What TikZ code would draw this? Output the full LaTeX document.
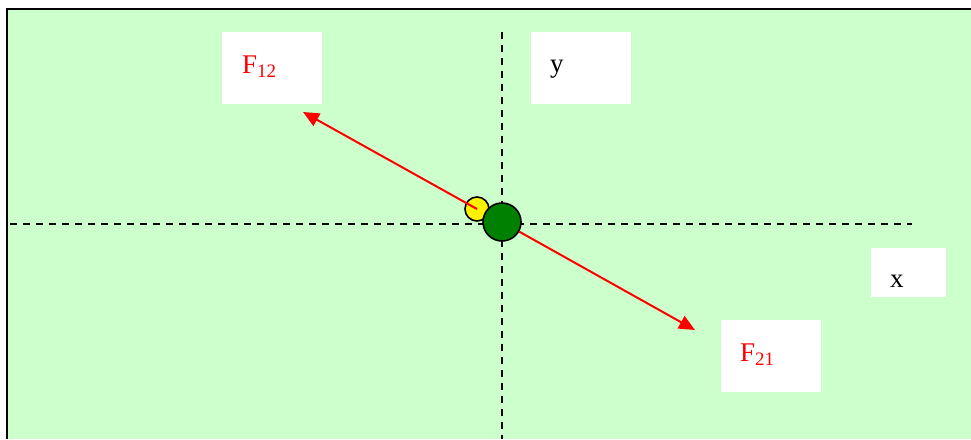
\documentclass[tikz,border=0pt]{standalone}
\usepackage{fontspec}
\setmainfont{Liberation Serif}
\usetikzlibrary{arrows.meta}
\definecolor{bggreen}{HTML}{CCFFCC}
\definecolor{dkgreen}{HTML}{008000}
\tikzset{
  labelbox/.style={fill=white, draw=none, inner sep=0pt, anchor=north west},
  lbl/.style={anchor=base west, inner sep=0pt, font=\fontsize{27}{31}\selectfont},
  axis/.style={black, line width=1.6pt, dash pattern=on 7pt off 6pt},
  force/.style={red, line width=2pt, -{Triangle[length=16pt,width=14pt]}},
}
\begin{document}
\begin{tikzpicture}[x=1pt,y=-1pt]
\useasboundingbox (0,0) rectangle (971,439);
\fill[bggreen] (7,9) rectangle (971,439);
\draw[black, line width=2.4pt] (7,439) -- (7,9) -- (971,9);
% label boxes
\node[labelbox, minimum width=100pt, minimum height=72pt] (b12) at (222,32) {};
\node[labelbox, minimum width=100pt, minimum height=72pt] (by) at (531,32) {};
\node[labelbox, minimum width=75pt, minimum height=49pt] (bx) at (871,248) {};
\node[labelbox, minimum width=100pt, minimum height=72pt] (b21) at (721,320) {};
% axes
\coordinate (vt) at (502,32);
\coordinate (vb) at (502,439);
\coordinate (hl) at (10,224);
\coordinate (hr) at (912,224);
\draw[axis] (vt) -- (vb);
\draw[axis] (hl) -- (hr);
% charges and forces
\node[circle, fill=yellow, draw=black, line width=1.6pt, minimum size=24pt, inner sep=0pt] (q1) at (477,209) {};
\coordinate (t1) at (303,112);
\coordinate (t2) at (695,330);
\draw[force] (q1.center) -- (t1);
\node[circle, fill=dkgreen, draw=black, line width=1.6pt, minimum size=38pt, inner sep=0pt] (q2) at (502,222) {};
\draw[force] (q2) -- (t2);
% labels
\node[lbl, text=red] (l12) at (242,73) {F\raisebox{-4pt}{\fontsize{19}{21}\selectfont 12}};
\node[lbl] (ly) at (550,72) {y};
\node[lbl] (lx) at (890,287) {x};
\node[lbl, text=red] (l21) at (740,361) {F\raisebox{-4pt}{\fontsize{19}{21}\selectfont 21}};
\end{tikzpicture}
\end{document}
